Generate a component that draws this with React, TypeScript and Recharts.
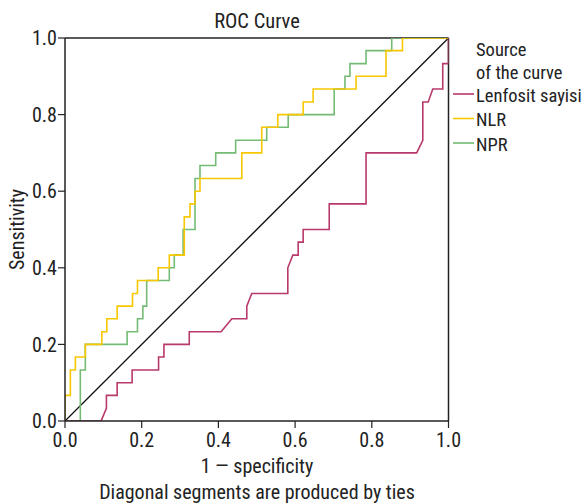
import React from 'react';
import { LineChart, Line, XAxis, YAxis, ReferenceLine } from 'recharts';

const FONT = '"Liberation Sans Narrow", "Arial Narrow", "Roboto Condensed", Roboto, sans-serif';

const tickValues = [0, 0.2, 0.4, 0.6, 0.8, 1.0];

const lenfositX = [0, 0.094, 0.108, 0.108, 0.136, 0.136, 0.175, 0.175, 0.244, 0.244, 0.258, 0.258, 0.324, 0.324, 0.407, 0.435, 0.474, 0.474, 0.487, 0.581, 0.581, 0.594, 0.608, 0.608, 0.621, 0.621, 0.689, 0.689, 0.785, 0.785, 0.917, 0.933, 0.933, 0.947, 0.959, 0.985, 0.985, 1, 1];
const lenfositY = [0, 0, 0.033, 0.067, 0.067, 0.1, 0.1, 0.133, 0.133, 0.167, 0.167, 0.2, 0.2, 0.233, 0.233, 0.267, 0.267, 0.3, 0.333, 0.333, 0.4, 0.433, 0.433, 0.467, 0.467, 0.5, 0.5, 0.567, 0.567, 0.7, 0.7, 0.733, 0.833, 0.833, 0.867, 0.867, 0.933, 0.933, 1];

const nlrX = [0, 0, 0.014, 0.014, 0.027, 0.027, 0.053, 0.053, 0.096, 0.096, 0.109, 0.109, 0.136, 0.136, 0.176, 0.176, 0.189, 0.189, 0.243, 0.243, 0.272, 0.272, 0.311, 0.311, 0.326, 0.326, 0.339, 0.339, 0.352, 0.352, 0.461, 0.461, 0.513, 0.513, 0.555, 0.555, 0.621, 0.621, 0.647, 0.647, 0.759, 0.759, 0.837, 0.837, 0.88, 0.88, 1];
const nlrY = [0, 0.067, 0.067, 0.133, 0.133, 0.167, 0.167, 0.2, 0.2, 0.233, 0.233, 0.267, 0.267, 0.3, 0.3, 0.333, 0.333, 0.367, 0.367, 0.4, 0.4, 0.433, 0.433, 0.533, 0.533, 0.567, 0.567, 0.6, 0.6, 0.633, 0.633, 0.7, 0.7, 0.767, 0.767, 0.8, 0.8, 0.833, 0.833, 0.867, 0.867, 0.9, 0.9, 0.967, 0.967, 1, 1];

const nprX = [0, 0.04, 0.04, 0.053, 0.053, 0.162, 0.162, 0.189, 0.189, 0.203, 0.203, 0.213, 0.213, 0.272, 0.272, 0.285, 0.285, 0.308, 0.308, 0.339, 0.339, 0.352, 0.352, 0.393, 0.393, 0.445, 0.445, 0.526, 0.526, 0.582, 0.582, 0.702, 0.702, 0.73, 0.73, 0.743, 0.743, 0.785, 0.785, 0.852, 0.852, 1];
const nprY = [0, 0, 0.133, 0.133, 0.2, 0.2, 0.233, 0.233, 0.267, 0.267, 0.3, 0.3, 0.367, 0.367, 0.4, 0.4, 0.433, 0.433, 0.5, 0.5, 0.633, 0.633, 0.667, 0.667, 0.7, 0.7, 0.733, 0.733, 0.767, 0.767, 0.8, 0.8, 0.867, 0.867, 0.9, 0.9, 0.933, 0.933, 0.967, 0.967, 1, 1];

const seriesNames = ['Lenfosit sayisi', 'NLR', 'NPR'];
const seriesColors = ['#b8396b', '#f8c700', '#74bb74'];

const toPoints = (xs: number[], ys: number[]) => xs.map((x, i) => ({ x, y: ys[i] }));

const lenfositData = toPoints(lenfositX, lenfositY);
const nlrData = toPoints(nlrX, nlrY);
const nprData = toPoints(nprX, nprY);

const AXIS = '#222';

export default function App() {
  return (
    <div style={{ position: 'absolute', left: 0, top: 0, width: 586, height: 504, background: '#fff', fontFamily: FONT }}>
      <LineChart
        width={586}
        height={504}
        margin={{ top: 38, right: 137.5, left: 0, bottom: 43 }}
      >
        <XAxis
          type="number"
          dataKey="x"
          domain={[0, 1]}
          ticks={tickValues}
          tickFormatter={(v: number) => v.toFixed(1)}
          height={40}
          tickSize={7}
          tickMargin={5}
          axisLine={{ stroke: AXIS, strokeWidth: 1.5 }}
          tickLine={{ stroke: AXIS, strokeWidth: 1.2 }}
          tick={{ fill: '#222', fontSize: 20, fontFamily: FONT }}
          allowDataOverflow
        />
        <YAxis
          type="number"
          dataKey="y"
          domain={[0, 1]}
          ticks={tickValues}
          tickFormatter={(v: number) => v.toFixed(1)}
          width={65}
          tickSize={7}
          tickMargin={1}
          axisLine={{ stroke: AXIS, strokeWidth: 1.5 }}
          tickLine={{ stroke: AXIS, strokeWidth: 1.2 }}
          tick={{ fill: '#222', fontSize: 20, fontFamily: FONT }}
          allowDataOverflow
        />
        <ReferenceLine x={1} stroke={AXIS} strokeWidth={1.5} />
        <ReferenceLine y={1} stroke={AXIS} strokeWidth={1.5} />
        <ReferenceLine segment={[{ x: 0, y: 0 }, { x: 1, y: 1 }]} stroke="#111" strokeWidth={1.3} />
        <Line data={nprData} dataKey="y" type="linear" stroke={seriesColors[2]} strokeWidth={1.6} dot={false} isAnimationActive={false} name={seriesNames[2]} />
        <Line data={nlrData} dataKey="y" type="linear" stroke={seriesColors[1]} strokeWidth={1.6} dot={false} isAnimationActive={false} name={seriesNames[1]} />
        <Line data={lenfositData} dataKey="y" type="linear" stroke={seriesColors[0]} strokeWidth={1.6} dot={false} isAnimationActive={false} name={seriesNames[0]} />
      </LineChart>
      <svg width={586} height={504} style={{ position: 'absolute', left: 0, top: 0, pointerEvents: 'none' }}>
        <g fontFamily={FONT} fill="#222" fontSize={20}>
          <text x={257} y={28} textAnchor="middle" fontSize={20.5}>ROC Curve</text>
          <text x={257} y={472.5} textAnchor="middle">1 — specificity</text>
          <text x={257} y={499} textAnchor="middle">Diagonal segments are produced by ties</text>
          <text x={0} y={0} textAnchor="middle" transform="translate(24,229.5) rotate(-90)">Sensitivity</text>
          <g fontSize={18.5}>
            <text x={476} y={56}>Source</text>
            <text x={476} y={78.5}>of the curve</text>
            {seriesNames.map((n, i) => (
              <g key={n}>
                <line x1={453} x2={474} y1={94 + i * 24.5} y2={94 + i * 24.5} stroke={seriesColors[i]} strokeWidth={1.6} />
                <text x={476} y={101.5 + i * 24.5}>{n}</text>
              </g>
            ))}
          </g>
        </g>
      </svg>
    </div>
  );
}
